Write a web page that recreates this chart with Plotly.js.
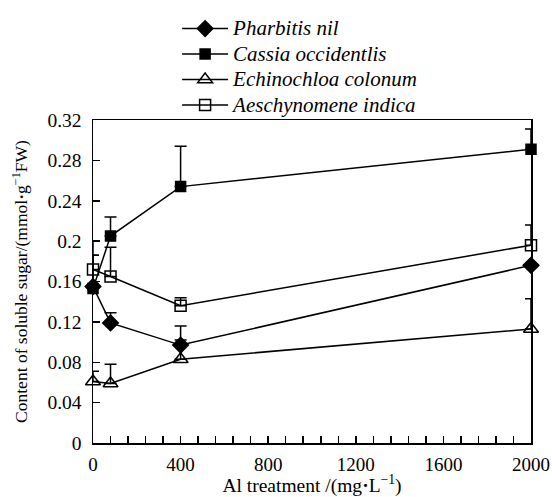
<!DOCTYPE html>
<html>
<head>
<meta charset="utf-8">
<script src="https://cdn.plot.ly/plotly-3.0.1.min.js"></script>
<style>html,body{margin:0;padding:0;background:#fff;}#chart{width:552px;height:497px;}</style>
</head>
<body>
<div id="chart"></div>
<script>
const alLevels = [0, 80, 400, 2000];
const seriesNames = ['Pharbitis nil', 'Cassia occidentlis', 'Echinochloa colonum', 'Aeschynomene indica'];
const pharbitis = [0.155, 0.119, 0.097, 0.176];
const pharbitisErr = [0.031, 0.010, 0.019, 0.0];
const cassia = [0.153, 0.205, 0.254, 0.291];
const cassiaErr = [0.033, 0.019, 0.040, 0.020];
const echinochloa = [0.061, 0.059, 0.083, 0.113];
const echinochloaErr = [0.010, 0.019, 0.019, 0.030];
const aeschynomene = [0.172, 0.165, 0.136, 0.196];
const aeschynomeneErr = [0.028, 0.029, 0.008, 0.020];
const yTickVals = [0, 0.04, 0.08, 0.12, 0.16, 0.2, 0.24, 0.28, 0.32];
const yTickText = ["0", "0.04", "0.08", "0.12", "0.16", "0.2", "0.24", "0.28", "0.32"];
const xTickVals = [0, 400, 800, 1200, 1600, 2000];
const xTickText = ["0", "400", "800", "1200", "1600", "2000"];

const FAM = 'Liberation Serif';
function mk(name, y, err, symbol, size) {
  return {
    x: alLevels, y: y, name: '<span style="font-size:21px"><i>' + name + '</i></span>',
    type: 'scatter', mode: 'lines+markers',
    cliponaxis: false,
    line: {color: '#000', width: 1.5},
    marker: {symbol: symbol, size: size, color: '#000',
             line: {color: '#000', width: 1.5}},
    error_y: {type: 'data', symmetric: false, array: err, arrayminus: err.map(() => 0),
              color: '#000', thickness: 1.5, width: 6}
  };
}
const data = [
  mk(seriesNames[0], pharbitis, pharbitisErr, 'diamond', 12),
  mk(seriesNames[1], cassia, cassiaErr, 'square', 10),
  mk(seriesNames[2], echinochloa, echinochloaErr, 'triangle-up-open', 13),
  mk(seriesNames[3], aeschynomene, aeschynomeneErr, 'square-open', 11)
];
const layout = {
  width: 552, height: 497,
  margin: {l: 93, r: 21, t: 120, b: 54, autoexpand: false},
  paper_bgcolor: '#fff', plot_bgcolor: '#fff',
  font: {family: FAM, color: '#000', size: 17},
  showlegend: true,
  legend: {x: 0.192, xanchor: 'left', y: 1.338, yanchor: 'top', bgcolor: 'rgba(0,0,0,0)',
           font: {family: FAM, size: 17.3, color: '#000'},
           itemwidth: 46, tracegroupgap: 0},
  xaxis: {
    range: [0, 2000], tickvals: xTickVals, ticktext: xTickText,
    ticks: 'inside', ticklen: 7, tickwidth: 1.5, tickcolor: '#000',
    minor: {dtick: 80, tick0: 0, ticks: 'inside', ticklen: 7, tickwidth: 1.5, tickcolor: '#000'},
    showline: true, linecolor: '#000', linewidth: 1.5, mirror: true,
    showgrid: false, zeroline: false, ticklabelstandoff: 4,
    tickfont: {family: FAM, size: 19, color: '#000'},
    title: {text: 'Al treatment /(mg<b>·</b>L<sup>−1</sup>)', standoff: 7,
            font: {family: FAM, size: 19.5, color: '#000'}}
  },
  yaxis: {
    range: [0, 0.32], tickvals: yTickVals, ticktext: yTickText,
    ticks: 'inside', ticklen: 7, tickwidth: 1.5, tickcolor: '#000',
    showline: true, linecolor: '#000', linewidth: 1.5, mirror: true,
    showgrid: false, zeroline: false, ticklabelstandoff: 6,
    tickfont: {family: FAM, size: 19.5, color: '#000'},
    title: {text: 'Content of soluble sugar/(mmol<b>·</b>g<sup>−1</sup>FW)', standoff: 15,
            font: {family: FAM, size: 17.5, color: '#000'}}
  }
};
Plotly.newPlot('chart', data, layout, {displayModeBar: false, staticPlot: true});
</script>
</body>
</html>
